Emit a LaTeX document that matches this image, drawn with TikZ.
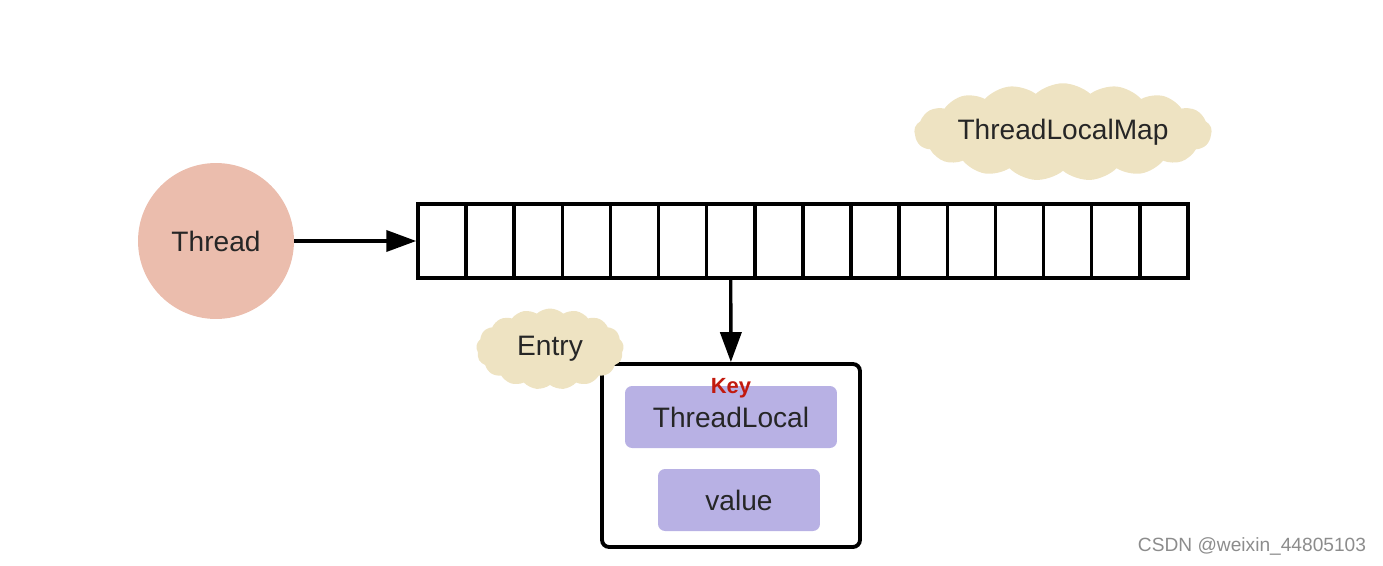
\documentclass[tikz,border=0pt]{standalone}
\usepackage{fontspec}
\setmainfont{Liberation Sans}
\usetikzlibrary{arrows.meta,shapes.symbols}
\definecolor{salmon}{HTML}{EBBDAD}
\definecolor{sand}{HTML}{EEE3C2}
\definecolor{lilac}{HTML}{B8B1E4}
\definecolor{keyred}{HTML}{C21A0E}
\tikzset{
  every node/.style={font=\fontsize{16}{19}\selectfont, text=black!85},
  arr/.style={-{Triangle[length=17pt,width=12pt]}, line width=1.9pt},
  cell/.style={draw, line width=2pt, minimum width=0.9625cm, minimum height=1.48cm, inner sep=0pt},
  blob/.style={cloud, cloud ignores aspect, cloud puffs=17, cloud puff arc=85, fill=sand, inner sep=0pt},
  field/.style={fill=lilac, rounded corners=4pt, inner sep=0pt, minimum height=1.24cm}
}
\begin{document}
\begin{tikzpicture}[x=0.02cm,y=-0.02cm]
    \useasboundingbox (0,0) rectangle (1383,565);
    \node [circle, fill=salmon, minimum size=3.12cm] (thread) at (216,241) {Thread};
    % the array of the map
    \foreach \i in {0,...,15}
        \node [cell] (c\i) at (442+48.125*\i,241) {};
    \node [draw, line width=2.2pt, rounded corners=4pt, minimum width=5.16cm, minimum height=3.66cm] (entry) at (731,455.5) {};
    \node [field, minimum width=4.24cm] (tl) at (731,417) {ThreadLocal};
    \node [field, minimum width=3.24cm] (val) at (739,500) {value};
    \node [font=\fontsize{12.5}{14}\selectfont\bfseries, text=keyred, inner sep=0pt] (key) at (731,388) {Key};
    \node [blob, minimum width=2.95cm, minimum height=1.62cm] (entrytag) at (550,349) {Entry};
    \node [blob, minimum width=5.95cm, minimum height=1.95cm] (maptag) at (1063,132) {ThreadLocalMap};
    \draw [arr] (thread) -- (c0);
    \draw [arr] (c6) -- (entry);
    \node [font=\fontsize{10.9}{12}\selectfont, text=black!45] (mark) at (1252,546) {CSDN @weixin\_44805103};
\end{tikzpicture}
\end{document}
